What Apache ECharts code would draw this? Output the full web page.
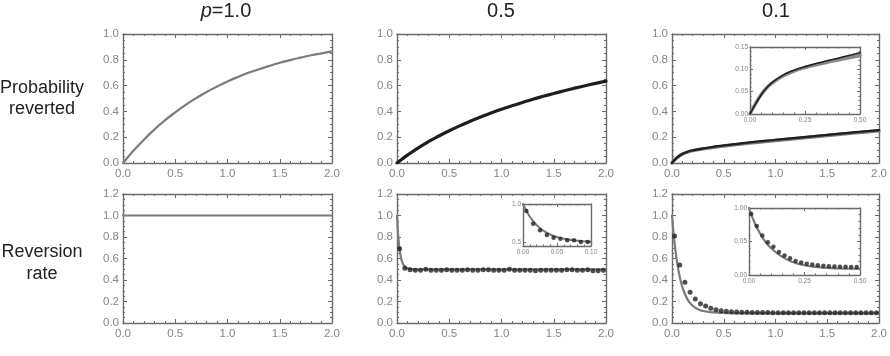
<!DOCTYPE html>
<html>
<head>
<meta charset="utf-8">
<script src="https://cdn.jsdelivr.net/npm/echarts@6/dist/echarts.min.js"></script>
<style>
  html, body { margin: 0; padding: 0; background: #fff; }
  #container { width: 890px; height: 356px; }
</style>
</head>
<body>
<div id="container"></div>
<script>
// column titles and row labels
var colTitles = ['{i|p}=1.0', '0.5', '0.1'];
var rowLabels = [['Probability', 'reverted'], ['Reversion', 'rate']];

// top row: probability reverted
var curveX   = [0, 0.05, 0.1, 0.2, 0.3, 0.4, 0.5, 0.6, 0.7, 0.8, 0.9, 1.0, 1.1, 1.2, 1.3, 1.4, 1.5, 1.6, 1.7, 1.8, 1.9, 2.0];
var probP10  = [0, 0.049, 0.095, 0.181, 0.259, 0.33, 0.393, 0.451, 0.503, 0.551, 0.593, 0.632, 0.667, 0.699, 0.727, 0.753, 0.777, 0.798, 0.817, 0.835, 0.85, 0.865];
var probP05  = [0, 0.031, 0.061, 0.116, 0.165, 0.209, 0.25, 0.288, 0.323, 0.356, 0.387, 0.416, 0.443, 0.469, 0.494, 0.517, 0.539, 0.56, 0.58, 0.599, 0.617, 0.635];
var p01X     = [0, 0.02, 0.05, 0.1, 0.15, 0.2, 0.3, 0.4, 0.5, 0.75, 1.0, 1.25, 1.5, 1.75, 2.0];
var probP01  = [0, 0.02, 0.042, 0.07, 0.087, 0.098, 0.113, 0.125, 0.137, 0.16, 0.18, 0.199, 0.218, 0.237, 0.255];
var probP01Fit = [0, 0.02, 0.043, 0.069, 0.085, 0.096, 0.11, 0.121, 0.131, 0.154, 0.174, 0.194, 0.213, 0.232, 0.25];
// inset of the p=0.1 probability panel
var insetAX    = [0, 0.01, 0.025, 0.05, 0.075, 0.1, 0.15, 0.2, 0.25, 0.3, 0.35, 0.4, 0.45, 0.5];
var insetAProb = [0, 0.009, 0.022, 0.042, 0.058, 0.07, 0.087, 0.098, 0.106, 0.113, 0.119, 0.125, 0.131, 0.137];
var insetAFit  = [0, 0.01, 0.023, 0.043, 0.058, 0.069, 0.085, 0.096, 0.104, 0.11, 0.116, 0.121, 0.126, 0.131];

// bottom row: reversion rate
var rateP10X = [0, 2.0];
var rateP10  = [1.0, 1.0];
var rateP05X = [0, 0.01, 0.02, 0.03, 0.04, 0.05, 0.06, 0.08, 0.1, 0.15, 0.2, 2.0];
var rateP05  = [1.0, 0.835, 0.725, 0.651, 0.601, 0.568, 0.545, 0.52, 0.509, 0.501, 0.5, 0.5];
var rateP01X = [0, 0.025, 0.05, 0.075, 0.1, 0.15, 0.2, 0.25, 0.3, 0.4, 0.5, 0.75, 1.0, 2.0];
var rateP01  = [1.0, 0.74, 0.56, 0.43, 0.335, 0.22, 0.16, 0.128, 0.112, 0.098, 0.093, 0.09, 0.09, 0.09];
// simulated points
var dotX = [0.025, 0.075, 0.125, 0.175, 0.225, 0.275, 0.325, 0.375, 0.425, 0.475,
            0.525, 0.575, 0.625, 0.675, 0.725, 0.775, 0.825, 0.875, 0.925, 0.975,
            1.025, 1.075, 1.125, 1.175, 1.225, 1.275, 1.325, 1.375, 1.425, 1.475,
            1.525, 1.575, 1.625, 1.675, 1.725, 1.775, 1.825, 1.875, 1.925, 1.975];
var simP05 = [0.69, 0.51, 0.495, 0.49, 0.49, 0.5, 0.49, 0.49, 0.49, 0.495,
              0.49, 0.49, 0.49, 0.495, 0.49, 0.49, 0.495, 0.495, 0.49, 0.49,
              0.49, 0.5, 0.49, 0.49, 0.49, 0.49, 0.485, 0.49, 0.49, 0.49,
              0.49, 0.49, 0.495, 0.495, 0.49, 0.49, 0.495, 0.485, 0.485, 0.49];
var simP01 = [0.81, 0.54, 0.38, 0.285, 0.223, 0.18, 0.158, 0.137, 0.124, 0.115,
              0.11, 0.105, 0.102, 0.1, 0.1, 0.098, 0.097, 0.097, 0.097, 0.096,
              0.096, 0.096, 0.095, 0.095, 0.095, 0.095, 0.095, 0.095, 0.095, 0.095,
              0.095, 0.095, 0.095, 0.095, 0.095, 0.096, 0.095, 0.095, 0.095, 0.095];
// inset of the p=0.5 rate panel
var insetBDotX = [0.005, 0.015, 0.025, 0.035, 0.045, 0.055, 0.065, 0.075, 0.085, 0.095];
var insetBDots = [0.908, 0.742, 0.655, 0.594, 0.559, 0.546, 0.525, 0.525, 0.503, 0.503];
// inset of the p=0.1 rate panel (its own y labels)
var insetCLineX = [0, 0.025, 0.05, 0.075, 0.1, 0.15, 0.2, 0.25, 0.3, 0.35, 0.4, 0.45, 0.5];
var insetCLine  = [1.0, 0.78, 0.62, 0.49, 0.4, 0.27, 0.19, 0.145, 0.12, 0.105, 0.097, 0.093, 0.09];
var insetCDotX = [0.01, 0.035, 0.06, 0.085, 0.11, 0.135, 0.16, 0.185, 0.21, 0.235,
                  0.26, 0.285, 0.31, 0.335, 0.36, 0.385, 0.41, 0.435, 0.46, 0.485];
var insetCDots = [0.91, 0.73, 0.59, 0.49, 0.42, 0.345, 0.29, 0.25, 0.21, 0.185,
                  0.167, 0.155, 0.145, 0.138, 0.132, 0.127, 0.124, 0.122, 0.12, 0.12];
var insetCYLabels = { '0': '0.00', '0.5': '0.05', '1': '1.00' };

var FONT = 'Liberation Sans, Arial, sans-serif';
var FRAME = '#6a6a6a';
var LABEL = '#858585';
var GRAY = '#7b7b7b';
var BLACK = '#1e1e1e';

var grids = [], xAxes = [], yAxes = [], series = [];

function pairs(xs, ys) {
    return xs.map(function (x, i) { return [x, ys[i]]; });
}

// one framed panel: bottom/left axes carry labels, top/right only ticks
function addPanel(box, xa, ya, small) {
    var gi = grids.length;
    grids.push({
        left: box[0], top: box[1], width: box[2], height: box[3],
        show: !!small, backgroundColor: '#fff', borderWidth: 0
    });
    var tickLen = small ? 3 : 4;
    var fs = small ? 6.5 : 11.5;
    function axis(def, pos, labels, isX) {
        var a = {
            type: 'value', gridIndex: gi, position: pos,
            min: def.min, max: def.max, interval: def.interval,
            axisLine: { show: true, onZero: false, lineStyle: { color: FRAME, width: 1.4 } },
            axisTick: { show: true, inside: true, length: tickLen, lineStyle: { color: FRAME, width: 1 } },
            minorTick: { show: true, splitNumber: def.minor, length: tickLen / 2, lineStyle: { color: FRAME, width: 1 } },
            splitLine: { show: false },
            axisLabel: {
                show: labels, color: LABEL, fontFamily: FONT, fontSize: fs,
                margin: isX ? (small ? 3 : 5) : (small ? 2 : 4),
                formatter: def.fmt
            }
        };
        if (def.custom) {
            a.axisTick.customValues = def.custom;
            a.axisLabel.customValues = def.custom;
            a.minorTick.show = false;
        }
        return a;
    }
    xAxes.push(axis(xa, 'bottom', true, true));
    xAxes.push(axis(xa, 'top', false, true));
    yAxes.push(axis(ya, 'left', true, false));
    yAxes.push(axis(ya, 'right', false, false));
    return { x: xAxes.length - 2, y: yAxes.length - 2 };
}

function fix(n) { return function (v) { return v.toFixed(n); }; }

function addLine(p, xs, ys, color, width) {
    series.push({
        type: 'line', xAxisIndex: p.x, yAxisIndex: p.y,
        data: pairs(xs, ys), showSymbol: false, smooth: 0.5,
        lineStyle: { color: color, width: width, cap: 'round', join: 'round' }, z: 2, silent: true
    });
}
function addDots(p, xs, ys, size) {
    series.push({
        type: 'scatter', xAxisIndex: p.x, yAxisIndex: p.y,
        data: pairs(xs, ys), symbolSize: size,
        itemStyle: { color: '#222' }, z: 4, silent: true
    });
}

var mainX = { min: 0, max: 2, interval: 0.5, minor: 5, fmt: fix(1) };
var topY  = { min: 0, max: 1, interval: 0.2, minor: 4, fmt: fix(1) };
var botY  = { min: 0, max: 1.2, interval: 0.2, minor: 4, fmt: fix(1) };
var colLeft = [123, 397, 672];
var colW = [209, 209, 208];

// top row
var pA = addPanel([colLeft[0], 34, colW[0], 129], mainX, topY);
addLine(pA, curveX, probP10, GRAY, 2.2);
var pB = addPanel([colLeft[1], 34, colW[1], 129], mainX, topY);
addLine(pB, curveX, probP05, BLACK, 3.2);
var pC = addPanel([colLeft[2], 34, colW[2], 129], mainX, topY);
addLine(pC, p01X, probP01Fit, GRAY, 3.4);
addLine(pC, p01X, probP01, BLACK, 2.2);

// bottom row
var pD = addPanel([colLeft[0], 194, colW[0], 129], mainX, botY);
addLine(pD, rateP10X, rateP10, GRAY, 2.2);
var pE = addPanel([colLeft[1], 194, colW[1], 129], mainX, botY);
addLine(pE, rateP05X, rateP05, GRAY, 2.2);
addDots(pE, dotX, simP05, 5);
var pF = addPanel([colLeft[2], 194, colW[2], 129], mainX, botY);
addLine(pF, rateP01X, rateP01, GRAY, 2.2);
addDots(pF, dotX, simP01, 5);

// insets
var iA = addPanel([750, 47, 110, 67],
    { min: 0, max: 0.5, interval: 0.25, minor: 5, fmt: fix(2) },
    { min: 0, max: 0.15, interval: 0.05, minor: 5, fmt: fix(2) }, true);
addLine(iA, insetAX, insetAFit, '#8a8a8a', 3.5);
addLine(iA, insetAX, insetAProb, BLACK, 1.6);

var iB = addPanel([523, 204, 68, 42],
    { min: 0, max: 0.1, interval: 0.05, minor: 5, fmt: fix(2) },
    { min: 0.45, max: 1.0, custom: [0.5, 1.0], fmt: fix(1) }, true);
addLine(iB, rateP05X, rateP05, GRAY, 2);
addDots(iB, insetBDotX, insetBDots, 4.5);

var iC = addPanel([749, 208, 111, 67],
    { min: 0, max: 0.5, interval: 0.25, minor: 5, fmt: fix(2) },
    { min: 0, max: 1.0, interval: 0.5, minor: 5, fmt: function (v) { return insetCYLabels[String(v)]; } }, true);
addLine(iC, insetCLineX, insetCLine, GRAY, 2.2);
addDots(iC, insetCDotX, insetCDots, 4.5);

// titles and row labels
var texts = [];
var titleX = [226, 501, 776];
colTitles.forEach(function (t, i) {
    texts.push({
        type: 'text', x: titleX[i], y: 11, silent: true,
        style: {
            text: t, fill: '#222', font: '20px ' + FONT,
            align: 'center', verticalAlign: 'middle',
            rich: { i: { fontStyle: 'italic', fontSize: 20, fontFamily: FONT, fill: '#222' } }
        }
    });
});
var rowY = [[88, 109], [252, 274]];
rowLabels.forEach(function (lines, r) {
    lines.forEach(function (s, k) {
        texts.push({
            type: 'text', x: 42, y: rowY[r][k], silent: true,
            style: { text: s, fill: '#222', font: '18px ' + FONT, align: 'center', verticalAlign: 'middle' }
        });
    });
});

var myChart = echarts.init(document.getElementById('container'), null, { renderer: 'canvas' });
var option = {
    animation: false,
    backgroundColor: '#fff',
    grid: grids,
    xAxis: xAxes,
    yAxis: yAxes,
    series: series,
    graphic: { elements: texts }
};
myChart.setOption(option);
</script>
</body>
</html>
